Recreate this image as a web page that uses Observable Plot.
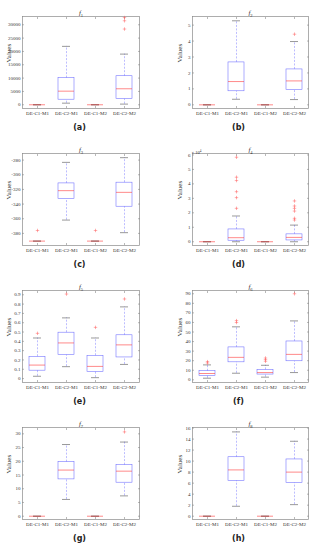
<!DOCTYPE html>
<html><head><meta charset="utf-8">
<script src="https://cdn.jsdelivr.net/npm/d3@7"></script>
<script src="https://cdn.jsdelivr.net/npm/@observablehq/plot@0.6"></script>
<style>
body{margin:0;background:#fff;}
#fig{position:relative;width:318px;height:550px;overflow:hidden;}
.panel{position:absolute;width:159px;height:137px;}
.panel svg{display:block;}
.cap{position:absolute;left:0;width:159px;top:123px;text-align:center;font:bold 8px "DejaVu Sans",sans-serif;color:#222;line-height:10px;}
</style></head><body><div id="fig"></div>
<script>
const categories = ["DE-C1-M1", "DE-C2-M1", "DE-C1-M2", "DE-C2-M2"];
const captions = ["(a)", "(b)", "(c)", "(d)", "(e)", "(f)", "(g)", "(h)"];
const titleIndex = ["1", "2", "3", "4", "5", "6", "7", "8"];

// each row: [lower whisker, q1, median, q3, upper whisker]
const f1Stats = [[0,0,0,0,0],[600,1900,5100,10000,21900],[0,0,0,0,0],[250,2100,6000,10700,19000]];
const f1Outliers = [[],[],[],[28400,31500,32700]];
const f1Ticks = [0,5000,10000,15000,20000,25000,30000];
const f1Domain = [-1400, 33100];

const f2Stats = [[0,0,0,0,0],[0.35,0.85,1.46,2.66,5.27],[0,0,0,0,0],[0.33,0.94,1.5,2.22,3.97]];
const f2Outliers = [[],[],[],[4.43]];
const f2Ticks = [0,1,2,3,4,5];
const f2Domain = [-0.23, 5.54];

const f3Stats = [[-390.5,-390.5,-390.5,-390.5,-390.5],[-361.8,-333.2,-321.7,-311.8,-283.1],[-390.5,-390.5,-390.5,-390.5,-390.5],[-379,-343.6,-324,-310.8,-276.7]];
const f3Outliers = [[-376],[],[-376],[]];
const f3Ticks = [-380,-360,-340,-320,-300,-280];
const f3Domain = [-396.5, -271];

const f4Stats = [[0,0,0,0,0],[0,700,2800,8500,17800],[0,0,0,0,0],[0,900,3000,5100,11500]];
const f4Outliers = [[],[23100,30500,34600,42300,44600,58400],[],[15000,16200,21200,23100,24700,28200]];
const f4Ticks = [0,10000,20000,30000,40000,50000,60000];
const f4Domain = [-2600, 61000];

const f5Stats = [[0.025,0.085,0.145,0.234,0.436],[0.128,0.252,0.383,0.493,0.652],[0.01,0.071,0.131,0.245,0.436],[0.152,0.227,0.362,0.465,0.77]];
const f5Outliers = [[0.486],[0.908],[0.55],[0.855]];
const f5Ticks = [0,0.1,0.2,0.3,0.4,0.5,0.6,0.7,0.8,0.9];
const f5Domain = [-0.042, 0.946];

const f6Stats = [[1.7,3.8,6.6,9.0,15.6],[6.9,18.3,23.5,33.9,55.4],[2.8,5.5,7.6,10.4,15.2],[7.6,19.4,26.6,40.1,61.6]];
const f6Outliers = [[17.6,19.0],[59.9,61.9],[19.4,21.1,22.8],[90]];
const f6Ticks = [0,10,20,30,40,50,60,70,80,90];
const f6Domain = [-2.8, 93.4];

const f7Stats = [[0,0,0,0,0],[6.1,13.4,16.8,19.7,26.1],[0,0,0,0,0],[7.4,12.2,16.4,18.6,27.0]];
const f7Outliers = [[],[],[],[30.7]];
const f7Ticks = [0,5,10,15,20,25,30];
const f7Domain = [-1.2, 32.3];

const f8Stats = [[0,0,0,0,0],[1.8,6.4,8.4,10.7,15.3],[0,0,0,0,0],[2.1,6.0,8.0,10.3,13.6]];
const f8Outliers = [[],[],[],[]];
const f8Ticks = [0,2,4,6,8,10,12,14,16];
const f8Domain = [-0.6, 16.1];

const panels = [
  {stats:f1Stats, out:f1Outliers, ticks:f1Ticks, domain:f1Domain, scale:1},
  {stats:f2Stats, out:f2Outliers, ticks:f2Ticks, domain:f2Domain, scale:1},
  {stats:f3Stats, out:f3Outliers, ticks:f3Ticks, domain:f3Domain, scale:1},
  {stats:f4Stats, out:f4Outliers, ticks:f4Ticks, domain:f4Domain, scale:1e4, exp:"\u00d7 10"},
  {stats:f5Stats, out:f5Outliers, ticks:f5Ticks, domain:f5Domain, scale:1},
  {stats:f6Stats, out:f6Outliers, ticks:f6Ticks, domain:f6Domain, scale:1},
  {stats:f7Stats, out:f7Outliers, ticks:f7Ticks, domain:f7Domain, scale:1},
  {stats:f8Stats, out:f8Outliers, ticks:f8Ticks, domain:f8Domain, scale:1}
];

const fig = document.getElementById("fig");
const serif = "'Liberation Serif', 'DejaVu Serif', serif";
const axisGray = "#8a8a8a";

panels.forEach((p, k) => {
  const col = k % 2, row = Math.floor(k / 2);
  const rows = p.stats.map((s, i) => ({cat: categories[i], lo: s[0], q1: s[1], med: s[2], q3: s[3], hi: s[4]}));
  const outs = p.out.flatMap((vals, i) => vals.map(v => ({cat: categories[i], v})));
  const fmt = d => String(Math.round(d / p.scale * 1000) / 1000);
  const left = col === 0 ? 22 : 33;
  const right = col === 0 ? 20 : 10;
  const marks = [
    Plot.frame({stroke: axisGray, strokeWidth: 0.7}),
    Plot.axisY({anchor: "left", ticks: p.ticks, tickSize: -2, tickPadding: 4, tickFormat: fmt, label: null, fontSize: 5, stroke: axisGray, strokeWidth: 0.6}),
    Plot.axisY({anchor: "right", ticks: p.ticks, tickSize: -2, tickFormat: () => "", label: null, stroke: axisGray, strokeWidth: 0.6}),
    Plot.axisX({anchor: "bottom", tickSize: -2, tickPadding: 5, label: null, fontSize: 5, stroke: axisGray, strokeWidth: 0.6}),
    Plot.axisX({anchor: "top", tickSize: -2, tickFormat: () => "", label: null, stroke: axisGray, strokeWidth: 0.6}),
    Plot.ruleX(rows, {x: "cat", y1: "q3", y2: "hi", stroke: "#7a7aff", strokeWidth: 0.5, strokeDasharray: "2,1.5"}),
    Plot.ruleX(rows, {x: "cat", y1: "lo", y2: "q1", stroke: "#7a7aff", strokeWidth: 0.5, strokeDasharray: "2,1.5"}),
    Plot.barY(rows, {x: "cat", y1: "q1", y2: "q3", fill: "none", stroke: "#6a6aff", strokeWidth: 0.55}),
    Plot.tickY(rows, {x: "cat", y: "hi", stroke: "#444", strokeWidth: 0.55, inset: 4}),
    Plot.tickY(rows, {x: "cat", y: "lo", stroke: "#444", strokeWidth: 0.55, inset: 4}),
    Plot.tickY(rows, {x: "cat", y: "med", stroke: "#ff3a3a", strokeWidth: 0.6}),
    Plot.dot(outs, {x: "cat", y: "v", symbol: "plus", r: 1.2, stroke: "#ff5a5a", strokeWidth: 0.5}),
    Plot.text(["f"], {frameAnchor: "top", dy: -6, text: d => d, fontStyle: "italic", fontSize: 7, fill: "#333", className: "ptitle"}),
    Plot.text(["Values"], {frameAnchor: "left", rotate: -90, dx: col === 0 ? -14 : -12.5, text: d => d, fontSize: 7, fill: "#333"})
  ];
  if (p.exp) marks.push(Plot.text([p.exp], {frameAnchor: "top-left", dy: -3, dx: -1, text: d => d, textAnchor: "start", fontSize: 4.5, fill: "#333", className: "pexp"}));
  const svg = Plot.plot({
    width: 159, height: 122,
    marginTop: 16, marginBottom: 14, marginLeft: left, marginRight: right,
    style: {fontFamily: serif, fontSize: "5px", color: "#333", background: "white", overflow: "visible"},
    x: {type: "band", domain: categories, paddingInner: 0.46, paddingOuter: 0.23},
    y: {domain: p.domain},
    marks
  });
  // subscript index on the panel title (f with subscript k)
  d3.select(svg).selectAll("g.ptitle text").append("tspan")
    .attr("font-style", "normal").attr("font-size", 4.5).attr("dy", "0.3em").text(titleIndex[k]);
  d3.select(svg).selectAll("g.pexp text").append("tspan")
    .attr("font-size", 3.2).attr("dy", "-0.5em").text("4");
  const div = document.createElement("div");
  div.className = "panel";
  div.style.left = (col * 159) + "px";
  div.style.top = (row * 137) + "px";
  div.appendChild(svg);
  const cap = document.createElement("div");
  cap.className = "cap";
  cap.textContent = captions[k];
  div.appendChild(cap);
  fig.appendChild(div);
});
</script>
</body></html>
